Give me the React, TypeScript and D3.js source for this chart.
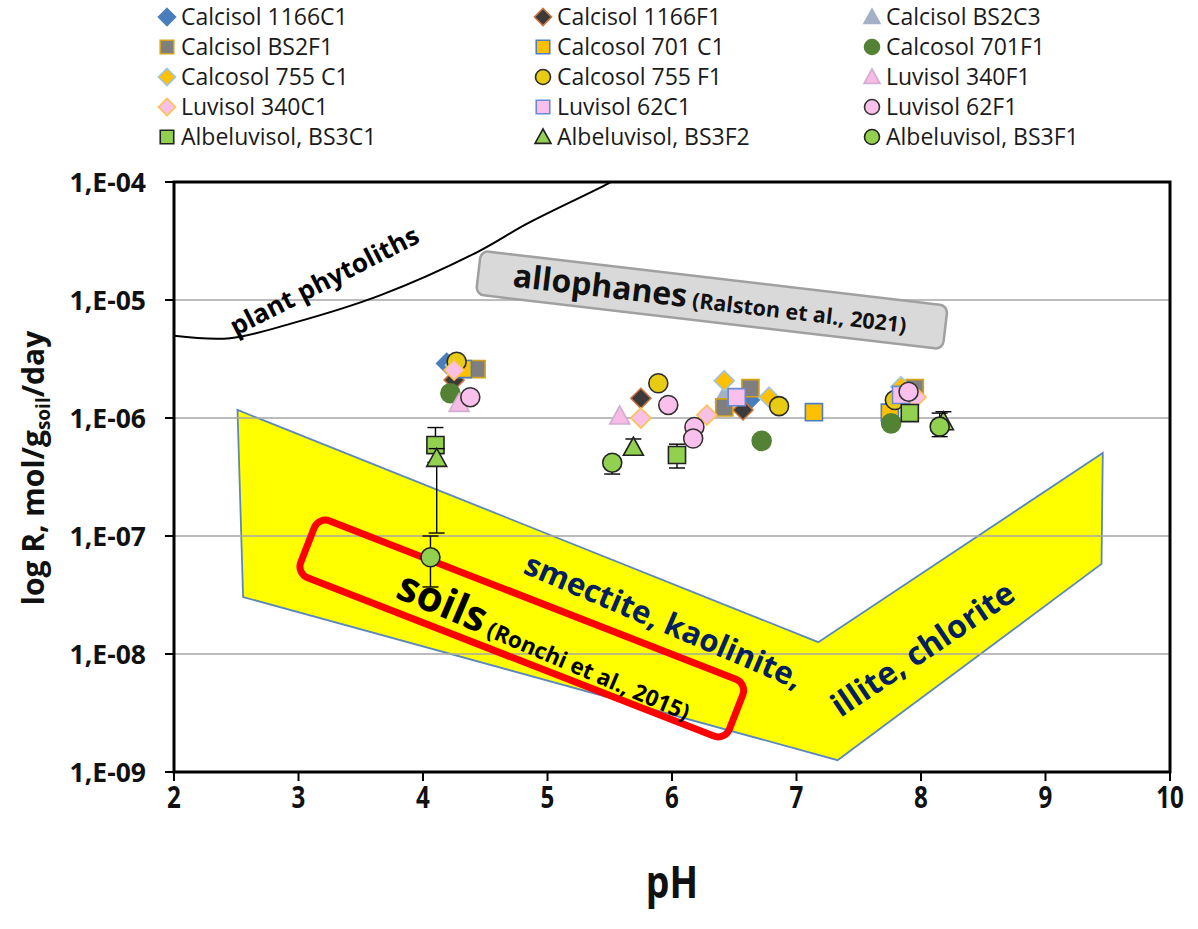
import React from "react";
import * as d3 from "d3";

// ---------- data ----------
type Pt = [number, number, number?, number?]; // pH, R, errLow, errHigh

const seriesNames = [
  "Calcisol 1166C1", "Calcisol 1166F1", "Calcisol BS2C3",
  "Calcisol BS2F1", "Calcosol 701 C1", "Calcosol 701F1",
  "Calcosol 755 C1", "Calcosol 755 F1", "Luvisol 340F1",
  "Luvisol 340C1", "Luvisol 62C1", "Luvisol 62F1",
  "Albeluvisol, BS3C1", "Albeluvisol, BS3F2", "Albeluvisol, BS3F1",
];

const calcisol1166C1: Pt[] = [[4.19, 2.9e-6], [6.62, 1.42e-6]];
const calcisol1166F1: Pt[] = [[4.25, 2.1e-6], [5.75, 1.47e-6], [6.57, 1.17e-6]];
const calcisolBS2C3: Pt[] = [[6.43, 1.6e-6], [7.83, 1.7e-6]];
const calcisolBS2F1: Pt[] = [[4.43, 2.6e-6], [6.42, 1.23e-6], [6.63, 1.79e-6], [7.95, 1.79e-6]];
const calcosol701C1: Pt[] = [[4.32, 2.6e-6], [7.14, 1.12e-6], [7.75, 1.11e-6]];
const calcosol701F1: Pt[] = [[4.22, 1.62e-6], [6.72, 6.4e-7], [7.76, 9.0e-7]];
const calcosol755C1: Pt[] = [[4.26, 2.8e-6], [6.42, 2.07e-6], [6.78, 1.5e-6], [7.84, 1.84e-6]];
const calcosol755F1: Pt[] = [[4.27, 3.0e-6], [5.89, 1.97e-6], [6.86, 1.26e-6], [7.79, 1.42e-6]];
const luvisol340F1: Pt[] = [[4.29, 1.33e-6], [5.58, 1.04e-6]];
const luvisol340C1: Pt[] = [[4.25, 2.55e-6], [5.75, 1.0e-6], [6.28, 1.06e-6], [7.96, 1.5e-6]];
const luvisol62C1: Pt[] = [[6.52, 1.5e-6], [7.84, 1.57e-6]];
const luvisol62F1: Pt[] = [[4.38, 1.5e-6], [5.97, 1.29e-6], [6.18, 8.4e-7], [6.17, 6.7e-7], [7.9, 1.67e-6]];
const albeluvisolBS3C1: Pt[] = [[4.1, 5.9e-7, 4.2e-7, 8.3e-7], [6.04, 4.86e-7, 3.77e-7, 6.0e-7], [7.91, 1.1e-6]];
const albeluvisolBS3F2: Pt[] = [[4.11, 4.55e-7, 1.06e-7, 5.5e-7], [5.69, 5.65e-7, 5.0e-7, 6.64e-7], [8.18, 9.3e-7, 8.0e-7, 1.13e-6]];
const albeluvisolBS3F1: Pt[] = [[4.06, 6.6e-8, 3.7e-8, 1.0e-7], [5.52, 4.18e-7, 3.35e-7, 4.6e-7], [8.15, 8.45e-7, 6.95e-7, 1.1e-6]];

const seriesData: Pt[][] = [
  calcisol1166C1, calcisol1166F1, calcisolBS2C3, calcisolBS2F1, calcosol701C1,
  calcosol701F1, calcosol755C1, calcosol755F1, luvisol340F1, luvisol340C1,
  luvisol62C1, luvisol62F1, albeluvisolBS3C1, albeluvisolBS3F2, albeluvisolBS3F1,
];

// phytolith curve (pH, R)
const phytolithCurve: [number, number][] = [
  [2.0, 4.98e-6], [2.45, 4.75e-6], [2.96, 6.4e-6], [3.66, 1.1e-5],
  [4.44, 2.56e-5], [4.84, 4.46e-5], [5.49, 9.75e-5], [5.7, 1.3e-4],
];

// clay-mineral band polygon (pH, R)
const clayBand: [number, number][] = [
  [2.51, 1.17e-6], [2.555, 3.04e-8], [7.33, 1.26e-9], [9.45, 5.8e-8], [9.46, 5.05e-7], [7.175, 1.26e-8],
];

const xTicks = [2, 3, 4, 5, 6, 7, 8, 9, 10];
const yTicks = [1e-9, 1e-8, 1e-7, 1e-6, 1e-5, 1e-4];

// ---------- styles ----------
type Style = { shape: string; fill: string; stroke: string };
const styles: Style[] = [
  { shape: "diamond", fill: "#4a7ebb", stroke: "#4a7ebb" },
  { shape: "diamond", fill: "#3a3a3a", stroke: "#c8703c" },
  { shape: "triangle", fill: "#a5b0c6", stroke: "#a5b0c6" },
  { shape: "square", fill: "#7f7f7f", stroke: "#d4a21a" },
  { shape: "square", fill: "#ffc000", stroke: "#4f7ec0" },
  { shape: "circle", fill: "#548235", stroke: "#548235" },
  { shape: "diamond", fill: "#ffc000", stroke: "#9dc3e6" },
  { shape: "circle", fill: "#e8cc14", stroke: "#2b2b2b" },
  { shape: "triangle", fill: "#f7bbe6", stroke: "#d0aed0" },
  { shape: "diamond", fill: "#f9c0e6", stroke: "#ffc04a" },
  { shape: "square", fill: "#f9c0ec", stroke: "#6a8ad4" },
  { shape: "circle", fill: "#f9c0ec", stroke: "#333333" },
  { shape: "square", fill: "#92d050", stroke: "#222222" },
  { shape: "triangle", fill: "#92d050", stroke: "#222222" },
  { shape: "circle", fill: "#92d050", stroke: "#222222" },
];

const FONT = "'Open Sans', Lato, sans-serif";

function Marker({ shape, fill, stroke, x, y, s }: { shape: string; fill: string; stroke: string; x: number; y: number; s: number }) {
  const sw = 1.6;
  if (shape === "circle") return <circle cx={x} cy={y} r={s} fill={fill} stroke={stroke} strokeWidth={sw} />;
  let d = "";
  if (shape === "diamond") d = `M0,${-s}L${s},0L0,${s}L${-s},0Z`;
  else if (shape === "square") { const h = s * 0.9; d = `M${-h},${-h}H${h}V${h}H${-h}Z`; }
  else d = `M0,${-s}L${s},${s * 0.8}L${-s},${s * 0.8}Z`;
  return <path d={d} transform={`translate(${x},${y})`} fill={fill} stroke={stroke} strokeWidth={sw} />;
}

export default function App() {
  const W = 1198, H = 929;
  const x = d3.scaleLinear().domain([2, 10]).range([174, 1170]);
  const y = d3.scaleLog().domain([1e-9, 1e-4]).range([772, 182]);
  const [x0, x1] = x.range();
  const [yb, yt] = y.range();

  const curve = d3.line<[number, number]>().x(d => x(d[0])).y(d => y(d[1])).curve(d3.curveCatmullRom)(phytolithCurve) || "";
  const band = clayBand.map(d => `${x(d[0])},${y(d[1])}`).join(" ");

  const fmt = (v: number) => `1,E-${String(Math.round(-Math.log10(v))).padStart(2, "0")}`;

  const legendCols = [167, 543, 872];
  const legendRows = [17, 47, 77, 107, 137];

  // annotation anchors in data space
  const allo = { cx: x(6.32), cy: y(1e-5) };
  const soilsBox = { cx: x(4.795), cy: y(1.66e-8) };

  return (
    <svg width={W} height={H} style={{ display: "block", position: "absolute", left: 0, top: 0 }} fontFamily={FONT}>
      <rect width={W} height={H} fill="#fff" />
      <defs>
        <clipPath id="plotClip"><rect x={x0} y={yt} width={x1 - x0} height={yb - yt} /></clipPath>
      </defs>

      {/* legend */}
      {seriesNames.map((n, i) => {
        const cx = legendCols[i % 3];
        const cy = legendRows[Math.floor(i / 3)];
        const st = styles[i];
        const s = st.shape === "diamond" ? 8.5 : st.shape === "triangle" ? 8 : 7.5;
        return (
          <g key={n}>
            <Marker {...st} x={cx} y={cy} s={s} />
            <text x={cx + 14} y={cy} dy="0.36em" fontSize={23} fill="#1a1a1a">{n}</text>
          </g>
        );
      })}

      {/* clay band */}
      <polygon points={band} fill="#ffff00" stroke="#5b87bd" strokeWidth={1.8} />

      {/* gridlines */}
      {yTicks.slice(1, -1).map(t => (
        <line key={t} x1={x0} x2={x1} y1={y(t)} y2={y(t)} stroke="#a6a6a6" strokeWidth={1.6} />
      ))}

      {/* phytolith curve */}
      <path d={curve} fill="none" stroke="#000" strokeWidth={2} clipPath="url(#plotClip)" />
      <text transform={`translate(324,280) rotate(-27)`} textAnchor="middle" dominantBaseline="central" fontSize={26} fontWeight="bold">plant phytoliths</text>

      {/* allophanes box */}
      <g transform={`translate(${allo.cx},${allo.cy}) rotate(6.7)`}>
        <rect x={-235} y={-22} width={470} height={44} rx={8} fill="#d9d9d9" stroke="#a0a0a0" strokeWidth={2.5} />
        <text x={-2} y={10} textAnchor="middle" fontWeight="bold" fill="#111">
          <tspan fontSize={32}>allophanes</tspan>
          <tspan fontSize={21.5}> (Ralston et al., 2021)</tspan>
        </text>
      </g>

      {/* mineral labels */}
      <text transform={`translate(664,620) rotate(23)`} textAnchor="middle" dominantBaseline="central" fontSize={31} fontWeight="bold" fill="#002060">smectite, kaolinite,</text>
      <text transform={`translate(922,648) rotate(-34)`} textAnchor="middle" dominantBaseline="central" fontSize={32} fontWeight="bold" fill="#002060">illite, chlorite</text>

      {/* soils box */}
      <g transform={`translate(${soilsBox.cx},${soilsBox.cy}) rotate(21.3)`}>
        <rect x={-230} y={-30} width={460} height={61} rx={12} fill="none" stroke="#ff0000" strokeWidth={7} />
      </g>
      <text transform={`translate(394,597) rotate(23)`} fontWeight="bold" fill="#000">
        <tspan fontSize={42}>soils</tspan>
        <tspan fontSize={22.5}> (Ronchi et al., 2015)</tspan>
      </text>

      {/* data */}
      {seriesData.map((pts, i) => {
        const st = styles[i];
        const s = st.shape === "diamond" ? 10 : st.shape === "triangle" ? 10 : 9.5;
        return (
          <g key={i}>
            {pts.map((p, j) => (
              <g key={j}>
                {p[2] !== undefined && p[3] !== undefined && (
                  <g stroke="#000" strokeWidth={1.4}>
                    <line x1={x(p[0])} x2={x(p[0])} y1={y(p[2])} y2={y(p[3])} />
                    <line x1={x(p[0]) - 8} x2={x(p[0]) + 8} y1={y(p[2])} y2={y(p[2])} />
                    <line x1={x(p[0]) - 8} x2={x(p[0]) + 8} y1={y(p[3])} y2={y(p[3])} />
                  </g>
                )}
                <Marker {...st} x={x(p[0])} y={y(p[1])} s={s} />
              </g>
            ))}
          </g>
        );
      })}

      {/* frame and axes */}
      <rect x={x0} y={yt} width={x1 - x0} height={yb - yt} fill="none" stroke="#000" strokeWidth={3} />
      {yTicks.map(t => (
        <g key={t}>
          <line x1={x0 - 9} x2={x0} y1={y(t)} y2={y(t)} stroke="#000" strokeWidth={2} />
          <text x={146} y={y(t)} dy="0.36em" textAnchor="end" fontSize={26.5} fontWeight="bold" fill="#111">{fmt(t)}</text>
        </g>
      ))}
      {xTicks.map(t => (
        <g key={t}>
          <line x1={x(t)} x2={x(t)} y1={yb} y2={yb + 9} stroke="#000" strokeWidth={2} />
          <text transform={`translate(${x(t)},${yb + 36}) scale(0.78,1)`} textAnchor="middle" fontSize={31} fontWeight="bold" fill="#111">{t}</text>
        </g>
      ))}
      <text transform={`translate(672,898) scale(0.85,1)`} textAnchor="middle" fontSize={44} fontWeight="bold" fill="#111">pH</text>
      <text transform={`translate(44,468) rotate(-90)`} textAnchor="middle" fontSize={30} fontWeight="bold" fill="#111">
        log R, mol/g<tspan fontSize={19} dy={6}>soil</tspan><tspan dy={-6}>/day</tspan>
      </text>
    </svg>
  );
}
